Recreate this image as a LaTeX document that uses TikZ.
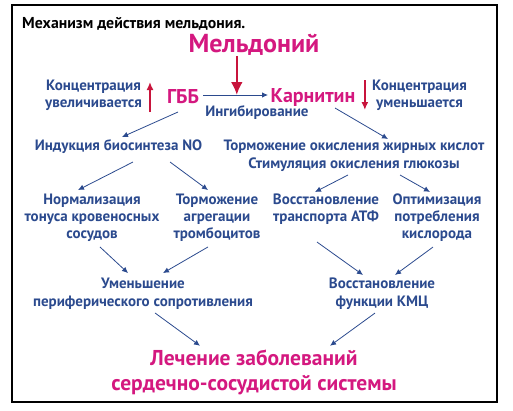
\documentclass[tikz,border=0pt]{standalone}
\usepackage{fontspec}
\setmainfont{PT Sans}
\usetikzlibrary{arrows.meta,calc}
\definecolor{dblue}{HTML}{2B4A8E}
\definecolor{mag}{HTML}{D4187F}
\definecolor{rred}{HTML}{C8143C}
\begin{document}
\begin{tikzpicture}[x=1pt,y=-1pt,
  txt/.style={font=\bfseries\fontsize{15}{17}\selectfont,text=dblue,align=center,inner sep=0pt},
  txtw/.style={txt,font=\bfseries\fontsize{15}{18}\selectfont},
  big/.style={font=\bfseries\fontsize{20}{25}\selectfont,text=mag,align=center,inner sep=0pt},
  barr/.style={draw=dblue,line width=0.8pt,-{Latex[length=6pt,width=5.5pt]}},
  rarr/.style={draw=rred,line width=1.6pt,-{Latex[length=8pt,width=7pt]}},
  rbig/.style={draw=rred,line width=2.6pt,-{Latex[length=13pt,width=12pt]}}]
\useasboundingbox (0,0) rectangle (513,410);
\draw[line width=1.4pt] (12,5) rectangle (497,402);
\node[anchor=west,inner sep=0pt,font=\bfseries\fontsize{15.8}{18}\selectfont] (title) at (22,24) {Механизм действия мельдония.};
\node[big,font=\bfseries\fontsize{26}{30}\selectfont] (meld) at (254,45) {Мельдоний};
\node[big] (gbb) at (183,97) {ГББ};
\node[big] (karn) at (313,97) {Карнитин};
\node[txt] (ingib) at (257,113) {Ингибирование};
\node[txt] (concL) at (93.5,95) {Концентрация\\увеличивается};
\node[txt] (concR) at (419.5,95) {Концентрация\\уменьшается};
\node[txt] (no) at (118.5,147) {Индукция биосинтеза NO};
\node[txtw] (tor) at (354,156) {Торможение окисления жирных кислот\\Стимуляция окисления глюкозы};
\node[txt] (norm) at (92,218) {Нормализация\\тонуса кровеносных\\сосудов};
\node[txt] (trom) at (217,218) {Торможение\\агрегации\\тромбоцитов};
\node[txt] (atf) at (326,209.5) {Восстановление\\транспорта АТФ};
\node[txt] (opt) at (437,218) {Оптимизация\\потребления\\кислорода};
\node[txtw] (umen) at (143,294) {Уменьшение\\периферического сопротивления};
\node[txtw] (kmc) at (382,294) {Восстановление\\функции КМЦ};
\node[big,font=\bfseries\fontsize{21.5}{25}\selectfont] (lech) at (254,372.5) {Лечение заболеваний\\сердечно-сосудистой системы};
% arrows
\draw[barr] ($(gbb)+(20,-2)$) coordinate (g1) -- ($(karn)+(-45,-2)$) coordinate (k1);
\coordinate (inh) at ($(g1)!0.52!(k1)$);
\draw[rbig] (meld.south -| inh) -- (inh);
\draw[rarr] ($(concL.east)+(8,17)$) -- ($(concL.east)+(8,-13)$);
\draw[rarr] ($(concR.west)+(-7,-15)$) -- ($(concR.west)+(-7,15)$);
\draw[barr] ($(gbb)+(-5,15)$) -- ($(no)+(3.5,-10)$);
\draw[barr] ($(karn)+(22,11)$) -- ($(tor.north)+(34,-1)$);
\draw[barr] ($(no)+(14.5,15)$) -- ($(norm.north)+(-14,-4)$);
\draw[barr] ($(no)+(51.5,15)$) -- ($(trom.north)+(-9,-4)$);
\draw[barr] ($(tor.south)+(-6,3)$) -- ($(atf.north)+(-11,-2)$);
\draw[barr] ($(tor.south)+(46,3)$) -- ($(opt.north)+(-7,-2)$);
\draw[barr] ($(norm.south)+(8,5)$) -- ($(umen.north)+(-15,-5)$);
\draw[barr] ($(trom.south)+(-9,5)$) -- ($(umen.north)+(20,-5)$);
\draw[barr] ($(atf.south)+(-9,17)$) -- ($(kmc.north)+(-19,-3)$);
\draw[barr] ($(opt.south)+(-4,5)$) -- ($(kmc.north)+(13,-3)$);
\draw[barr] ($(umen.south)+(12,3)$) -- ($(lech.north)+(-54,-4)$);
\draw[barr] ($(kmc.south)+(-7,3)$) -- ($(lech.north)+(76,-4)$);
\end{tikzpicture}
\end{document}
